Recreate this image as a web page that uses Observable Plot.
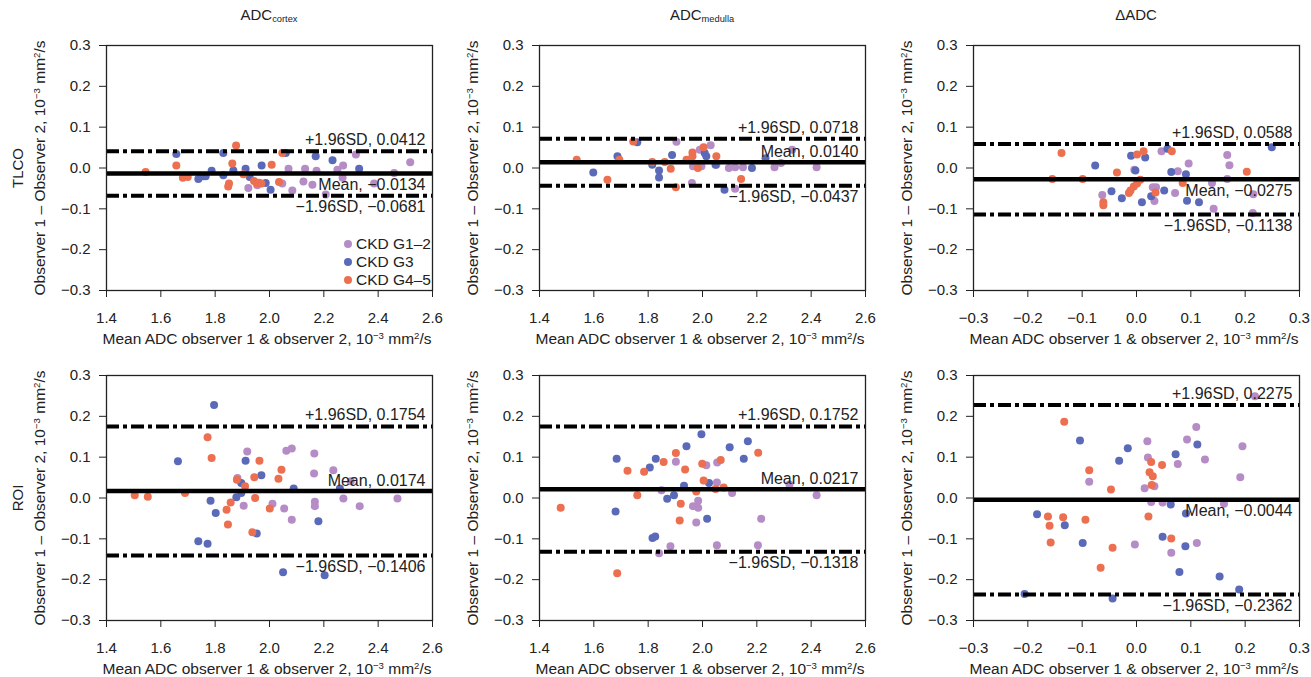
<!DOCTYPE html>
<html><head><meta charset="utf-8">
<script src="https://cdn.jsdelivr.net/npm/d3@7"></script>
<script src="https://cdn.jsdelivr.net/npm/@observablehq/plot@0.6"></script>
<style>
body{margin:0;background:#fff;font-family:"Liberation Sans",Arial,Helvetica,sans-serif;color:#222}
#root{position:relative;width:1311px;height:677px;overflow:hidden;background:#fff}
.abs{position:absolute;white-space:nowrap;line-height:18px}
sup,sub{font-size:0.62em;line-height:0}
sub{vertical-align:-0.25em}
sup{vertical-align:0.55em}
.rot{transform:translate(-50%,-50%) rotate(-90deg)}
.ctr{transform:translate(-50%,-50%)}
.legrow{display:flex;align-items:center;height:18px;font-size:15.5px}
.legdot{width:8px;height:8px;border-radius:50%;margin-right:4px;margin-left:1px}
</style></head><body><div id="root"></div>
<script>
// ---------- data ----------
const groups = ["CKD G1–2", "CKD G3", "CKD G4–5"];
const colors = ["#b58cc6", "#5b6ab8", "#ec6f50"];
const colTitles = ["ADC<sub>cortex</sub>", "ADC<sub>medulla</sub>", "ΔADC"];
const rowTitles = ["TLCO", "ROI"];
const adcTicks = [1.4, 1.6, 1.8, 2.0, 2.2, 2.4, 2.6];
const deltaTicks = [-0.3, -0.2, -0.1, 0, 0.1, 0.2, 0.3];
const diffTicks = [-0.3, -0.2, -0.1, 0, 0.1, 0.2, 0.3];

// TLCO, ADC cortex: [mean, difference]
const tlcoCortexG12 = [[1.922,-0.049],[1.955,-0.042],[2.047,-0.038],[2.070,-0.002],[2.084,-0.055],[2.125,-0.033],[2.131,-0.002],[2.158,-0.041],[2.173,-0.007],[2.207,-0.065],[2.250,-0.004],[2.271,0.006],[2.269,-0.024],[2.318,0.033],[2.385,-0.038],[2.459,-0.012],[2.518,0.014]];
const tlcoCortexG3 = [[1.657,0.034],[1.738,-0.027],[1.756,-0.020],[1.765,-0.020],[1.787,-0.007],[1.830,0.037],[1.830,-0.018],[1.867,-0.006],[1.912,-0.002],[1.927,-0.022],[1.971,0.006],[1.986,-0.037],[2.004,-0.053],[2.060,0.037],[2.170,0.029],[2.232,0.019],[2.330,-0.002]];
const tlcoCortexG45 = [[1.544,-0.010],[1.657,0.006],[1.681,-0.024],[1.699,-0.022],[1.851,-0.038],[1.848,-0.045],[1.863,0.011],[1.877,0.055],[1.904,-0.015],[1.943,-0.032],[1.954,-0.038],[1.961,-0.036],[1.970,-0.038],[2.008,0.008],[2.035,-0.034],[2.047,0.037]];

// TLCO, ADC medulla
const tlcoMedullaG12 = [[1.904,0.064],[1.961,-0.037],[1.965,0.004],[1.990,0.045],[1.996,0.004],[2.030,0.056],[2.051,0.008],[2.097,0.000],[2.120,0.002],[2.120,-0.051],[2.149,0.002],[2.265,0.002],[2.289,0.012],[2.330,0.045],[2.420,0.002]];
const tlcoMedullaG3 = [[1.598,-0.011],[1.687,0.029],[1.760,0.063],[1.815,0.008],[1.840,-0.006],[1.840,-0.023],[1.888,0.032],[2.008,0.037],[2.014,0.029],[2.048,0.008],[2.081,-0.053],[2.182,0.000],[2.232,0.024]];
const tlcoMedullaG45 = [[1.537,0.020],[1.650,-0.029],[1.694,0.020],[1.745,0.065],[1.815,0.015],[1.861,0.015],[1.883,-0.002],[1.902,-0.047],[1.941,0.020],[1.963,0.038],[1.963,0.029],[1.983,0.000],[2.004,0.051],[2.051,0.029],[2.142,-0.027]];

// TLCO, delta ADC
const tlcoDeltaG12 = [[-0.063,-0.066],[-0.004,-0.004],[0.030,-0.047],[0.036,-0.047],[0.033,-0.081],[0.046,0.041],[0.071,-0.061],[0.076,-0.008],[0.096,0.011],[0.139,-0.037],[0.142,-0.100],[0.167,0.032],[0.171,0.007],[0.167,-0.027],[0.215,-0.064],[0.214,-0.110]];
const tlcoDeltaG3 = [[-0.076,0.006],[-0.046,-0.057],[-0.027,-0.074],[-0.010,0.030],[-0.002,-0.006],[0.010,-0.084],[0.016,0.026],[0.027,-0.069],[0.051,-0.055],[0.057,0.047],[0.064,-0.010],[0.091,-0.015],[0.093,-0.080],[0.115,-0.084],[0.249,0.051]];
const tlcoDeltaG45 = [[-0.138,0.037],[-0.155,-0.027],[-0.099,-0.027],[-0.061,-0.084],[-0.061,-0.091],[-0.036,-0.011],[-0.014,-0.061],[-0.011,-0.055],[-0.005,-0.045],[0.001,-0.038],[0.007,-0.029],[0.001,0.033],[0.013,0.041],[0.035,-0.060],[0.065,0.041],[0.085,-0.037],[0.203,-0.009]];

// ROI, ADC cortex
const roiCortexG12 = [[1.882,0.049],[1.905,-0.019],[1.918,0.114],[2.011,-0.014],[2.054,-0.026],[2.062,0.116],[2.082,0.121],[2.082,-0.053],[2.165,0.109],[2.164,0.060],[2.167,-0.009],[2.167,-0.020],[2.235,0.068],[2.272,-0.001],[2.299,0.041],[2.332,-0.020],[2.471,-0.001]];
const roiCortexG3 = [[1.663,0.090],[1.738,-0.106],[1.772,-0.112],[1.783,-0.007],[1.796,0.228],[1.802,-0.037],[1.878,0.002],[1.896,0.037],[1.896,0.012],[1.912,0.091],[1.953,-0.087],[1.970,0.056],[2.050,-0.182],[2.089,0.023],[2.180,-0.057],[2.203,-0.189],[2.259,0.023]];
const roiCortexG45 = [[1.504,0.007],[1.552,0.003],[1.689,0.012],[1.772,0.149],[1.787,0.098],[1.842,-0.029],[1.847,-0.065],[1.857,-0.011],[1.880,0.045],[1.910,0.029],[1.937,-0.084],[1.944,0.051],[1.947,0.000],[1.963,0.091],[2.001,-0.026],[2.033,0.047],[2.044,0.069]];

// ROI, ADC medulla
const roiMedullaG12 = [[1.840,-0.135],[1.849,0.019],[1.882,-0.118],[1.902,0.089],[1.965,-0.020],[1.977,-0.060],[1.984,-0.007],[1.984,-0.024],[2.014,0.080],[2.053,0.038],[2.053,-0.116],[2.054,0.087],[2.109,0.012],[2.204,-0.116],[2.216,-0.051],[2.320,0.033],[2.420,0.007]];
const roiMedullaG3 = [[1.680,-0.033],[1.684,0.096],[1.806,0.075],[1.816,-0.098],[1.826,-0.094],[1.828,0.096],[1.870,-0.002],[1.895,0.007],[1.932,0.030],[1.941,0.127],[1.996,0.156],[2.017,-0.051],[2.024,0.037],[2.100,0.124],[2.152,0.096],[2.167,0.139]];
const roiMedullaG45 = [[1.478,-0.024],[1.686,-0.184],[1.724,0.067],[1.760,0.007],[1.785,0.064],[1.857,0.088],[1.902,0.110],[1.916,-0.055],[1.920,-0.014],[1.936,0.070],[1.977,0.016],[1.999,0.084],[2.004,0.043],[2.048,0.022],[2.067,0.093],[2.078,0.026],[2.205,0.111]];

// ROI, delta ADC
const roiDeltaG12 = [[-0.087,0.040],[-0.003,-0.114],[0.015,0.024],[0.020,0.139],[0.021,0.099],[0.027,-0.010],[0.033,0.029],[0.048,-0.011],[0.064,-0.134],[0.076,0.083],[0.093,0.143],[0.110,0.174],[0.111,-0.110],[0.126,0.094],[0.161,-0.014],[0.191,0.051],[0.195,0.127],[0.218,0.249]];
const roiDeltaG3 = [[-0.206,-0.235],[-0.183,-0.040],[-0.132,-0.067],[-0.104,0.141],[-0.099,-0.110],[-0.044,-0.246],[-0.032,0.091],[-0.016,0.122],[0.048,-0.095],[0.063,-0.016],[0.072,0.107],[0.079,-0.181],[0.090,-0.118],[0.091,-0.038],[0.112,0.131],[0.153,-0.192],[0.189,-0.224]];
const roiDeltaG45 = [[-0.163,-0.045],[-0.160,-0.068],[-0.158,-0.109],[-0.135,-0.047],[-0.133,0.187],[-0.094,-0.053],[-0.087,0.068],[-0.066,-0.171],[-0.047,0.021],[-0.044,-0.122],[0.022,-0.045],[0.024,0.063],[0.027,0.088],[0.030,0.053],[0.028,0.032],[0.047,0.081],[0.064,-0.099]];

// Bland-Altman statistics per panel (row-major)
const meanDiff = [-0.0134, 0.0140, -0.0275, 0.0174, 0.0217, -0.0044];
const upperLoA = [0.0412, 0.0718, 0.0588, 0.1754, 0.1752, 0.2275];
const lowerLoA = [-0.0681, -0.0437, -0.1138, -0.1406, -0.1318, -0.2362];
const meanLabelAbove = [false, true, false, true, true, false];

const panelSeries = [
  [tlcoCortexG12, tlcoCortexG3, tlcoCortexG45],
  [tlcoMedullaG12, tlcoMedullaG3, tlcoMedullaG45],
  [tlcoDeltaG12, tlcoDeltaG3, tlcoDeltaG45],
  [roiCortexG12, roiCortexG3, roiCortexG45],
  [roiMedullaG12, roiMedullaG3, roiMedullaG45],
  [roiDeltaG12, roiDeltaG3, roiDeltaG45]
];

// ---------- layout ----------
const FONT = '"Liberation Sans", Arial, Helvetica, sans-serif';
const FL = [106, 539, 973], FT = [45, 375], FW = 326, FH = 245;
const ML = 80, MR = 12, MT = 10, MB = 60;
const root = document.getElementById("root");
const f1 = d3.format(".1f"), f4 = d3.format(".4f");
const yLabel = "Observer 1 – Observer 2, 10<sup>−3</sup> mm<sup>2</sup>/s";
const xLabel = "Mean ADC observer 1 &amp; observer 2, 10<sup>−3</sup> mm<sup>2</sup>/s";

function addDiv(html, cls, left, top, extra) {
  const d = document.createElement("div");
  d.className = "abs " + cls;
  d.innerHTML = html;
  d.style.left = left + "px"; d.style.top = top + "px";
  if (extra) Object.assign(d.style, extra);
  root.appendChild(d);
  return d;
}

for (let i = 0; i < 6; i++) {
  const col = i % 3, row = Math.floor(i / 3);
  const pts = [];
  panelSeries[i].forEach((arr, g) => arr.forEach(([x, y]) => pts.push({x, y, g: groups[g]})));
  const isDelta = col === 2;
  const xTicks = isDelta ? deltaTicks : adcTicks;
  const above = meanLabelAbove[i];
  const plot = Plot.plot({
    width: ML + FW + MR, height: MT + FH + MB,
    marginLeft: ML, marginRight: MR, marginTop: MT, marginBottom: MB,
    style: {fontFamily: FONT, fontSize: "15px", color: "#222", background: "transparent", overflow: "visible"},
    x: {domain: [xTicks[0], xTicks[xTicks.length - 1]]},
    y: {domain: [diffTicks[0], diffTicks[diffTicks.length - 1]]},
    color: {domain: groups, range: colors},
    marks: [
      Plot.dot(pts, {x: "x", y: "y", fill: "g", r: 4}),
      Plot.ruleY([upperLoA[i], lowerLoA[i]], {stroke: "#000", strokeWidth: 4, strokeDasharray: "13,4,4,4"}),
      Plot.ruleY([meanDiff[i]], {stroke: "#000", strokeWidth: 4.5}),
      Plot.text([{y: upperLoA[i], t: "+1.96SD, " + f4(upperLoA[i])}],
        {y: "y", text: "t", frameAnchor: "right", textAnchor: "end", lineAnchor: "bottom", dx: -7, dy: -6, fontSize: 16, fill: "#222"}),
      Plot.text([{y: lowerLoA[i], t: "−1.96SD, " + f4(lowerLoA[i])}],
        {y: "y", text: "t", frameAnchor: "right", textAnchor: "end", lineAnchor: "top", dx: -7, dy: 5, fontSize: 16, fill: "#222"}),
      Plot.text([{y: meanDiff[i], t: "Mean, " + f4(meanDiff[i])}],
        {y: "y", text: "t", frameAnchor: "right", textAnchor: "end", lineAnchor: above ? "bottom" : "top", dx: -7, dy: above ? -5 : 5, fontSize: 16, fill: "#222"}),
      Plot.frame({stroke: "#222", strokeWidth: 1.3}),
      Plot.axisX({ticks: xTicks, tickFormat: f1, tickSize: 7, tickPadding: 15, label: null, stroke: "#222"}),
      Plot.axisY({ticks: diffTicks, tickFormat: f1, tickSize: 7, tickPadding: 9, label: null, stroke: "#222"})
    ]
  });
  const wrap = document.createElement("div");
  wrap.className = "abs";
  wrap.style.left = (FL[col] - ML) + "px";
  wrap.style.top = (FT[row] - MT) + "px";
  wrap.style.lineHeight = "0";
  wrap.appendChild(plot);
  root.appendChild(wrap);

  // axis titles
  addDiv(yLabel, "rot", FL[col] - 66, FT[row] + FH / 2, {fontSize: "15.5px"});
  addDiv(xLabel, "ctr", FL[col] + FW / 2 - 2, FT[row] + FH + 49, {fontSize: "15.5px"});
}

// column titles
colTitles.forEach((t, c) => addDiv(t, "ctr", FL[c] + FW / 2, 15, {fontSize: "15px"}));
// row titles
rowTitles.forEach((t, r) => addDiv(t, "rot", 18, FT[r] + FH / 2, {fontSize: "15px"}));

// legend (top-left panel)
const leg = addDiv("", "", FL[0] + 237, FT[0] + 190, {lineHeight: "18px"});
groups.forEach((g, k) => {
  const rowEl = document.createElement("div");
  rowEl.className = "legrow";
  rowEl.innerHTML = `<span class="legdot" style="background:${colors[k]}"></span><span>${g}</span>`;
  leg.appendChild(rowEl);
});
</script>
</body></html>
